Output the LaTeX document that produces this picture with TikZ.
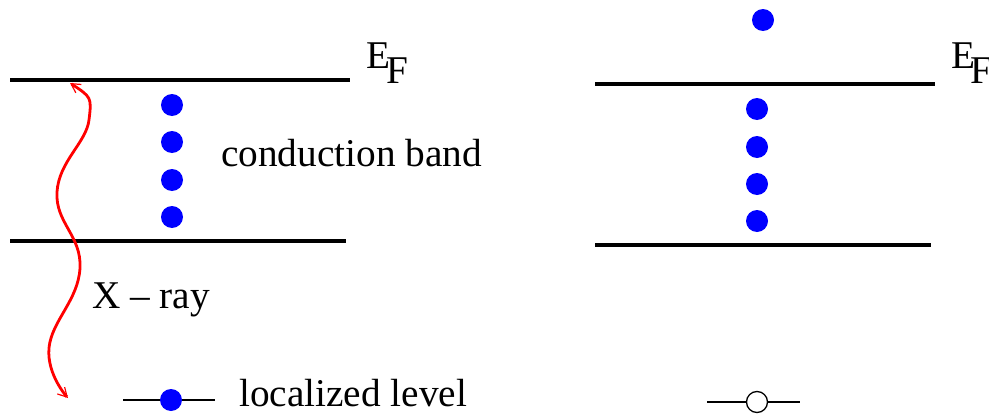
\documentclass[tikz,border=0pt]{standalone}
\usepackage{fontspec}
\setmainfont{Liberation Serif}
\usetikzlibrary{arrows.meta}
\tikzset{
  level/.style={line width=4pt},
  dotfill/.style={circle,fill=blue,inner sep=0pt,minimum size=22pt},
  dotopen/.style={circle,draw=black,line width=1.3pt,fill=white,inner sep=0pt,minimum size=21pt},
  lbl/.style={inner sep=0pt,font=\fontsize{39.3}{41}\selectfont},
  thinline/.style={line width=1.3pt},
  xray/.style={red,line width=2.8pt,{Straight Barb[length=9pt,width=10pt,line width=1.2pt]}-{Straight Barb[length=9pt,width=10pt,line width=1.2pt]}}
}
\begin{document}
\begin{tikzpicture}[x=1pt,y=-1pt]
\useasboundingbox (0,0) rectangle (989,415);
% left levels
\coordinate (LT1) at (10,80); \coordinate (LT2) at (350,80);
\coordinate (LB1) at (10,241); \coordinate (LB2) at (346,241);
\draw[level] (LT1) -- (LT2);
\draw[level] (LB1) -- (LB2);
% right levels
\coordinate (RT1) at (595,84); \coordinate (RT2) at (935,84);
\coordinate (RB1) at (595,245); \coordinate (RB2) at (931,245);
\draw[level] (RT1) -- (RT2);
\draw[level] (RB1) -- (RB2);
% left dots
\node[dotfill] (l1) at (172,105) {};
\node[dotfill] (l2) at (172,142) {};
\node[dotfill] (l3) at (172,180) {};
\node[dotfill] (l4) at (172,217) {};
% right dots
\node[dotfill] (r0) at (763,20) {};
\node[dotfill] (r1) at (757,109) {};
\node[dotfill] (r2) at (757,147) {};
\node[dotfill] (r3) at (757,184) {};
\node[dotfill] (r4) at (757,221) {};
% E_F labels
\node[lbl,anchor=base west] (E1) at (366,68) {E};
\node[lbl,anchor=base west] (F1) at (386,83) {F};
\node[lbl,anchor=base west] (E2) at (951,68) {E};
\node[lbl,anchor=base west] (F2) at (970,83) {F};
% texts
\node[lbl,anchor=base west] (cb) at (221,166) {conduction band};
\node[lbl,anchor=base west] (xr) at (92,308) {X – ray};
\node[lbl,anchor=base west] (ll) at (239,406) {localized level};
% x-ray wave
\coordinate (W0) at (70,83);
\coordinate (W5) at (68,398);
\draw[xray] plot[smooth,tension=0.75] coordinates {(W0) (89,120) (57,192) (80,268) (49,348) (W5)};
% legends
\coordinate (A1) at (123,400); \coordinate (A2) at (215,400);
\draw[thinline] (A1) -- (A2);
\node[dotfill] (ld) at (171,400) {};
\coordinate (B1) at (707,402); \coordinate (B2) at (800,402);
\draw[thinline] (B1) -- (B2);
\node[dotopen] (lo) at (757,402) {};
\end{tikzpicture}
\end{document}
